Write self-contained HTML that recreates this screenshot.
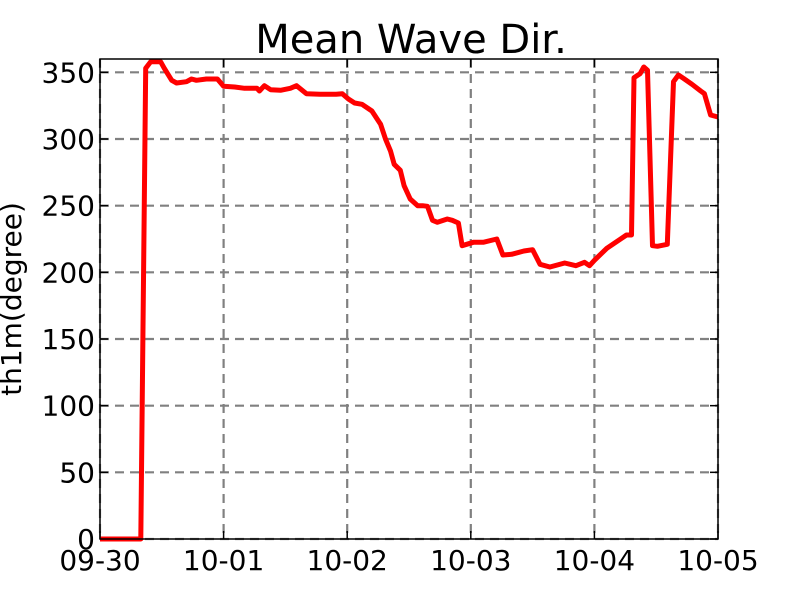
<!DOCTYPE html>
<html><head><meta charset="utf-8"><style>
body{margin:0;background:#fff;}
svg{display:block;font-family:"DejaVu Sans","Liberation Sans",sans-serif;}
</style></head><body>
<svg id="chart" width="800" height="600">
<text x="411" y="53" font-size="40" text-anchor="middle">Mean Wave Dir.</text>
<text transform="translate(21,299) rotate(-90)" font-size="28" text-anchor="middle">th1m(degree)</text>
<g id="grid"></g><g id="ticks"></g><g id="series"></g>
<rect x="100" y="59" width="618" height="480" fill="none" stroke="#000" stroke-width="1.5"/>
</svg>
<script>
const days=[0,0.33,0.37,0.41,0.49,0.52,0.58,0.62,0.70,0.74,0.78,0.86,0.95,1.0,1.09,1.17,1.27,1.29,1.33,1.38,1.46,1.54,1.59,1.67,1.78,1.91,1.96,2.01,2.06,2.12,2.20,2.27,2.31,2.35,2.38,2.43,2.46,2.51,2.57,2.61,2.65,2.69,2.73,2.81,2.85,2.90,2.93,3.02,3.10,3.21,3.26,3.33,3.43,3.50,3.56,3.64,3.76,3.85,3.92,3.96,4.0,4.10,4.22,4.26,4.30,4.32,4.37,4.40,4.43,4.47,4.51,4.59,4.64,4.68,4.72,4.79,4.86,4.89,4.94,5.0];
const dirs=[0,0,353,358,358,353,344,342,343,345,344,345,345,339.5,339,338,338,336,340,337,336.5,338,340,334,333.5,333.5,334,330,327,326,321,311,300,291,281,276.5,265,255,250,250,249.5,239,237.5,240,239,237,220,222.5,222.5,225,213,213.5,216,217,206,204,207,205,207.5,205,209,218,225.5,228,228,346,349,354,351.5,220,219.5,221,343,348,345.5,341,336,334,318,316.5];
const xTicks=[0,1,2,3,4,5];
const xLabels=["09-30","10-01","10-02","10-03","10-04","10-05"];
const yTicks=[0,50,100,150,200,250,300,350];
const X0=100,X1=718,Y0=539,Y1=59,XMAX=5,YMAX=360;
const sx=d=>X0+d/XMAX*(X1-X0), sy=v=>Y0-v/YMAX*(Y0-Y1);
const NS="http://www.w3.org/2000/svg";
const g=document.getElementById('grid'),t=document.getElementById('ticks'),s=document.getElementById('series');
function mk(tag,attrs,parent){const e=document.createElementNS(NS,tag);for(const k in attrs)e.setAttribute(k,attrs[k]);parent.appendChild(e);return e;}
xTicks.forEach((d,i)=>{const x=sx(d);
 const l=mk('line',{x1:x,x2:x,y1:Y1,y2:Y0,stroke:'#808080','stroke-width':2.2,'stroke-dasharray':'9,6'},g);
 
 
 const tk=mk('line',{x1:x,x2:x,y1:Y0,y2:Y0-8,stroke:'#000','stroke-width':1.5},t);
 
 
 const tk2=mk('line',{x1:x,x2:x,y1:Y1,y2:Y1+8,stroke:'#000','stroke-width':1.5},t);
 
 
 const tx=mk('text',{x:x,y:570,'font-size':28,'text-anchor':'middle'},t);tx.textContent=xLabels[i];
 
 
});
yTicks.forEach(v=>{const y=sy(v);
 const l=mk('line',{x1:X0,x2:X1,y1:y,y2:y,stroke:'#808080','stroke-width':2.2,'stroke-dasharray':'9,6'},g);
 
 
 const tk=mk('line',{x1:X0,x2:X0+8,y1:y,y2:y,stroke:'#000','stroke-width':1.5},t);
 
 
 const tk2=mk('line',{x1:X1,x2:X1-8,y1:y,y2:y,stroke:'#000','stroke-width':1.5},t);
 
 
 const tx=mk('text',{x:95,y:y+10,'font-size':28,'text-anchor':'end'},t);tx.textContent=v;
 
 
});
const pts=days.map((d,i)=>sx(d).toFixed(1)+','+sy(dirs[i]).toFixed(1)).join(' ');
const pl=mk('polyline',{points:pts,fill:'none',stroke:'#ff0000','stroke-width':5,'stroke-linejoin':'round'},s);


</script>
</body></html>
